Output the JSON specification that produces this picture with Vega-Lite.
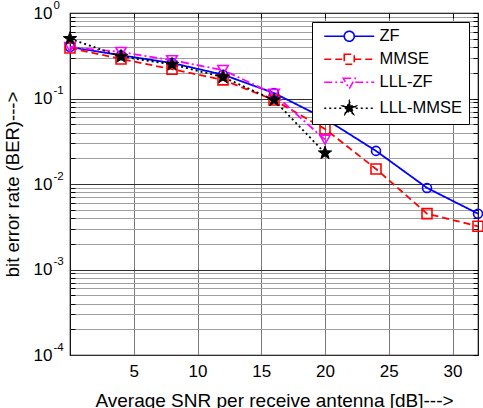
{
  "$schema": "https://vega.github.io/schema/vega-lite/v6.json",
  "width": 408,
  "height": 342,
  "autosize": "none",
  "padding": {"left": 70, "top": 13, "right": 5, "bottom": 53},
  "background": "white",
  "config": {
    "font": "Liberation Sans",
    "view": {"stroke": "black", "strokeWidth": 1.2},
    "axis": {"labelColor": "black", "titleColor": "black", "titleFontWeight": "normal", "domain": false},
    "legend": {
      "orient": "top-right",
      "offset": 9,
      "padding": 6,
      "strokeColor": "black",
      "fillColor": "white",
      "labelFontSize": 16.5,
      "labelColor": "black",
      "symbolStrokeWidth": 1.6,
      "symbolSize": 100,
      "labelOffset": 45,
      "rowPadding": 6
    }
  },
  "data": {
    "values": [
      {"scheme": "ZF", "snr": 0, "ber": 0.40},
      {"scheme": "ZF", "snr": 4, "ber": 0.32},
      {"scheme": "ZF", "snr": 8, "ber": 0.26},
      {"scheme": "ZF", "snr": 12, "ber": 0.19},
      {"scheme": "ZF", "snr": 16, "ber": 0.116},
      {"scheme": "ZF", "snr": 20, "ber": 0.058},
      {"scheme": "ZF", "snr": 24, "ber": 0.0244},
      {"scheme": "ZF", "snr": 28, "ber": 0.0090},
      {"scheme": "ZF", "snr": 32, "ber": 0.0045},
      {"scheme": "MMSE", "snr": 0, "ber": 0.39},
      {"scheme": "MMSE", "snr": 4, "ber": 0.29},
      {"scheme": "MMSE", "snr": 8, "ber": 0.22},
      {"scheme": "MMSE", "snr": 12, "ber": 0.165},
      {"scheme": "MMSE", "snr": 16, "ber": 0.096},
      {"scheme": "MMSE", "snr": 20, "ber": 0.044},
      {"scheme": "MMSE", "snr": 24, "ber": 0.015},
      {"scheme": "MMSE", "snr": 28, "ber": 0.0045},
      {"scheme": "MMSE", "snr": 32, "ber": 0.0032},
      {"scheme": "LLL-ZF", "snr": 0, "ber": 0.40},
      {"scheme": "LLL-ZF", "snr": 4, "ber": 0.35},
      {"scheme": "LLL-ZF", "snr": 8, "ber": 0.28},
      {"scheme": "LLL-ZF", "snr": 12, "ber": 0.215},
      {"scheme": "LLL-ZF", "snr": 16, "ber": 0.113},
      {"scheme": "LLL-ZF", "snr": 20, "ber": 0.033},
      {"scheme": "LLL-MMSE", "snr": 0, "ber": 0.50},
      {"scheme": "LLL-MMSE", "snr": 4, "ber": 0.31},
      {"scheme": "LLL-MMSE", "snr": 8, "ber": 0.25},
      {"scheme": "LLL-MMSE", "snr": 12, "ber": 0.178},
      {"scheme": "LLL-MMSE", "snr": 16, "ber": 0.096},
      {"scheme": "LLL-MMSE", "snr": 20, "ber": 0.023}
    ]
  },
  "resolve": {"axis": {"x": "independent", "y": "independent"}},
  "layer": [
    {
      "mark": {"type": "line", "strokeWidth": 1.8},
      "encoding": {
        "x": {"field": "snr", "type": "quantitative", "scale": {"domain": [0, 32], "nice": false, "zero": false},
          "axis": {"orient": "bottom", "values": [5, 10, 15, 20, 25, 30], "grid": true, "gridColor": "#7a7a7a", "ticks": false, "labelFontSize": 17, "labelPadding": 8, "title": "Average SNR per receive antenna [dB]--->", "titleFontSize": 19, "titleY": 45, "titleBaseline": "middle"}},
        "y": {"field": "ber", "type": "quantitative", "scale": {"type": "log", "domain": [0.0001, 1], "nice": false},
          "axis": {"orient": "left", "values": [0.0001, 0.001, 0.01, 0.1, 1], "labelExpr": "'10'", "grid": true, "gridColor": "#303030", "ticks": false, "labelFontSize": 17, "labelPadding": 18, "labelBaseline": "middle", "title": "bit error rate (BER)--->", "titleFontSize": 18.5, "titleX": -58, "titleBaseline": "middle"}},
        "stroke": {"field": "scheme", "type": "nominal", "title": null,
          "scale": {"domain": ["ZF", "MMSE", "LLL-ZF", "LLL-MMSE"], "range": ["#0000ff", "#ff0000", "#ff00ff", "#000000"]}},
        "strokeDash": {"field": "scheme", "type": "nominal", "title": null,
          "scale": {"domain": ["ZF", "MMSE", "LLL-ZF", "LLL-MMSE"], "range": [[1, 0], [7, 4], [8, 3, 2, 3], [2, 3]]}}
      }
    },
    {
      "transform": [{"filter": "datum.scheme == 'ZF'"}],
      "mark": {"type": "point", "shape": "circle", "filled": false, "size": 80, "stroke": "#0000ff", "strokeWidth": 1.6, "opacity": 1},
      "encoding": {
        "x": {"field": "snr", "type": "quantitative", "axis": null},
        "y": {"field": "ber", "type": "quantitative", "scale": {"type": "log", "domain": [0.0001, 1], "nice": false},
          "axis": {"orient": "left", "values": [0.0001, 0.001, 0.01, 0.1, 1], "labelExpr": "'' + round(log(datum.value) / LN10)", "grid": false, "ticks": false, "labelAlign": "left", "labelFontSize": 11.5, "labelPadding": 17, "labelOffset": -8, "labelBaseline": "middle", "title": null}}
      }
    },
    {
      "transform": [{"filter": "datum.scheme == 'MMSE'"}],
      "mark": {"type": "point", "shape": "square", "filled": false, "size": 100, "stroke": "#ff0000", "strokeWidth": 1.6, "opacity": 1},
      "encoding": {
        "x": {"field": "snr", "type": "quantitative", "axis": null},
        "y": {"field": "ber", "type": "quantitative", "scale": {"type": "log", "domain": [0.0001, 1], "nice": false},
          "axis": {"orient": "left", "values": [0.0002, 0.0003, 0.0004, 0.0005, 0.0006, 0.0007, 0.0008, 0.0009, 0.002, 0.003, 0.004, 0.005, 0.006, 0.007, 0.008, 0.009, 0.02, 0.03, 0.04, 0.05, 0.06, 0.07, 0.08, 0.09, 0.2, 0.3, 0.4, 0.5, 0.6, 0.7, 0.8, 0.9], "labels": false, "grid": true, "gridColor": "#a0a0a0", "ticks": true, "tickSize": -5, "tickColor": "black", "title": null}}
      }
    },
    {
      "transform": [{"filter": "datum.scheme == 'LLL-ZF'"}],
      "mark": {"type": "point", "shape": "triangle-down", "filled": false, "size": 110, "stroke": "#ff00ff", "strokeWidth": 1.6, "opacity": 1},
      "encoding": {
        "x": {"field": "snr", "type": "quantitative", "axis": null},
        "y": {"field": "ber", "type": "quantitative", "scale": {"type": "log", "domain": [0.0001, 1], "nice": false},
          "axis": {"orient": "right", "values": [0.0001, 0.0002, 0.0003, 0.0004, 0.0005, 0.0006, 0.0007, 0.0008, 0.0009, 0.001, 0.002, 0.003, 0.004, 0.005, 0.006, 0.007, 0.008, 0.009, 0.01, 0.02, 0.03, 0.04, 0.05, 0.06, 0.07, 0.08, 0.09, 0.1, 0.2, 0.3, 0.4, 0.5, 0.6, 0.7, 0.8, 0.9, 1], "labels": false, "grid": false, "ticks": true, "tickSize": -5, "tickColor": "black", "title": null}}
      }
    },
    {
      "transform": [{"filter": "datum.scheme == 'LLL-MMSE'"}],
      "mark": {"type": "point", "shape": "M0,-1L0.235,-0.324L0.951,-0.309L0.380,0.124L0.588,0.809L0,0.4L-0.588,0.809L-0.380,0.124L-0.951,-0.309L-0.235,-0.324Z", "filled": true, "size": 196, "fill": "black", "stroke": "black", "strokeWidth": 1, "opacity": 1},
      "encoding": {
        "x": {"field": "snr", "type": "quantitative",
          "axis": {"orient": "top", "values": [5, 10, 15, 20, 25, 30], "labels": false, "grid": false, "ticks": true, "tickSize": -5, "tickColor": "black", "title": null}},
        "y": {"field": "ber", "type": "quantitative", "scale": {"type": "log", "domain": [0.0001, 1], "nice": false}, "axis": null}
      }
    },
    {
      "transform": [{"filter": "false"}],
      "mark": {"type": "point", "filled": true, "opacity": 1, "strokeWidth": 1.6},
      "encoding": {
        "stroke": {"field": "scheme", "type": "nominal", "title": null,
          "scale": {"domain": ["ZF", "MMSE", "LLL-ZF", "LLL-MMSE"], "range": ["#0000ff", "#ff0000", "#ff00ff", "#000000"]}},
        "strokeDash": {"field": "scheme", "type": "nominal", "title": null,
          "scale": {"domain": ["ZF", "MMSE", "LLL-ZF", "LLL-MMSE"], "range": [[1, 0], [7, 4], [8, 3, 2, 3], [2, 3]]}},
        "fill": {"field": "scheme", "type": "nominal", "title": null,
          "scale": {"domain": ["ZF", "MMSE", "LLL-ZF", "LLL-MMSE"], "range": ["transparent", "transparent", "transparent", "#000000"]}},
        "shape": {"field": "scheme", "type": "nominal", "title": null,
          "scale": {"domain": ["ZF", "MMSE", "LLL-ZF", "LLL-MMSE"], "range": [
            "M-0.4,0H3.6M5.6,0H9.6M5.6,0A1,1 0 1 1 3.6,0A1,1 0 1 1 5.6,0Z",
            "M-0.4,0H3.6M5.6,0H9.6M3.6,-1H5.6V1H3.6Z",
            "M-0.4,0H3.4M5.8,0H9.6M3.4,-0.8H5.8L4.6,1.3Z",
            "M-0.4,0H3.3M5.9,0H9.6M4.6,-1.4L4.929,-0.453L5.931,-0.433L5.133,0.173L5.423,1.133L4.6,0.56L3.777,1.133L4.067,0.173L3.269,-0.433L4.271,-0.453Z"
          ]}}
      }
    }
  ]
}
